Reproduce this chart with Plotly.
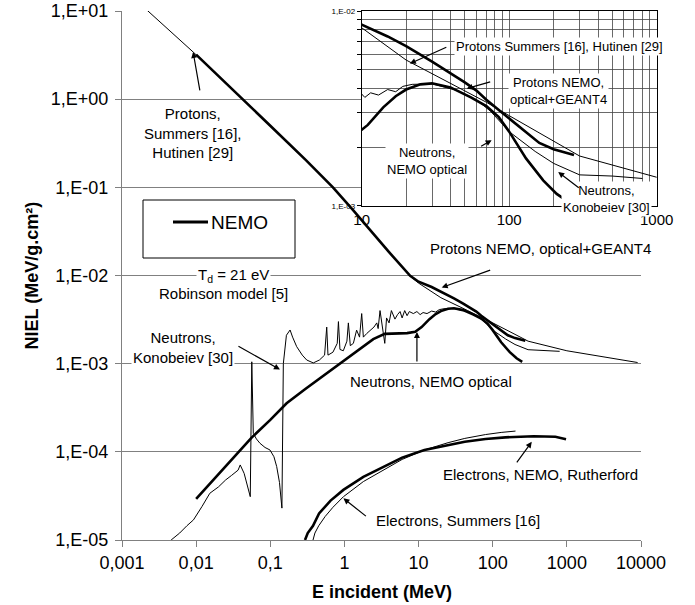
import math
import plotly.graph_objects as go

# ---------------- data (E in MeV, NIEL in MeV/g.cm2) ----------------
E_p_nemo = [0.01, 0.043, 0.1, 0.3, 0.7, 1.3, 2.2, 4, 7.7, 10, 15, 20, 30, 40, 50, 60, 70, 85, 100, 130, 160, 200, 275]
N_p_nemo = [3.2, 1.0, 0.50, 0.205, 0.10, 0.0555, 0.0330, 0.0184, 0.0099, 0.0085, 0.0074, 0.0066, 0.0055, 0.0048,
            0.0043, 0.0039, 0.0035, 0.0031, 0.0028, 0.0024, 0.0021, 0.00195, 0.00182]

E_p_sum = [0.002, 0.0091, 0.043, 0.1, 0.3, 0.7, 1.3, 2.2, 4, 7.7, 10, 20, 46, 70, 100, 200, 300, 1000, 3000, 9000]
N_p_sum = [10.9, 3.43, 1.0, 0.50, 0.205, 0.10, 0.0555, 0.0330, 0.0184, 0.0098, 0.0082, 0.0056, 0.0040, 0.0034,
           0.0029, 0.00215, 0.00180, 0.00140, 0.00120, 0.00103]

E_n_nemo = [0.01, 0.017, 0.03, 0.056, 0.1, 0.166, 0.3, 0.71, 1.3, 2.45, 3.5, 5, 7, 9, 11, 14, 17, 20, 25, 30,
            40, 55, 70, 85, 100, 130, 170, 210, 250]
N_n_nemo = [2.92e-5, 4.8e-5, 8.0e-5, 1.45e-4, 2.3e-4, 3.55e-4, 5.2e-4, 8.85e-4, 1.3e-3, 1.9e-3, 2.18e-3, 2.22e-3,
            2.22e-3, 2.3e-3, 2.6e-3, 3.2e-3, 3.65e-3, 3.95e-3, 4.2e-3, 4.25e-3, 4.05e-3, 3.6e-3, 3.25e-3,
            2.85e-3, 2.4e-3, 1.75e-3, 1.35e-3, 1.15e-3, 1.05e-3]

E_n_kon = [0.0046, 0.006, 0.0075, 0.0092, 0.012, 0.0153, 0.02, 0.025, 0.03, 0.0368, 0.0393, 0.0444, 0.0537,
           0.0563, 0.0590, 0.065, 0.0726, 0.085, 0.099, 0.112, 0.122, 0.133, 0.1435, 0.150, 0.165, 0.185,
           0.2, 0.227, 0.27, 0.31, 0.38, 0.46, 0.54, 0.577, 0.6, 0.7, 0.8, 0.83, 0.87, 0.966, 1.08, 1.13,
           1.2, 1.32, 1.46, 1.6, 1.71, 1.8, 2.0, 2.23, 2.5, 2.73, 2.85, 3.02, 3.2, 3.5, 3.7, 4.0, 4.3, 4.8,
           5.2, 5.63, 6.0, 6.5, 7.0, 7.5, 8.5, 9.5, 10.5, 11.5, 13, 15, 17, 19, 22, 30, 45, 60, 75, 100,
           150, 200, 300, 500, 800]
N_n_kon = [1.0e-5, 1.2e-5, 1.45e-5, 1.69e-5, 2.4e-5, 3.39e-5, 4.0e-5, 4.8e-5, 5.4e-5, 6.2e-5, 7.1e-5, 5.7e-5,
           3.1e-5, 1.05e-3, 1.62e-4, 1.4e-4, 1.25e-4, 1.12e-4, 1.05e-4, 8.8e-5, 6.8e-5, 4.5e-5, 2.3e-5,
           1.0e-3, 2.1e-3, 2.41e-3, 2.0e-3, 1.56e-3, 1.25e-3, 1.1e-3, 1.02e-3, 1.1e-3, 1.25e-3, 2.6e-3,
           1.25e-3, 1.35e-3, 1.7e-3, 3.0e-3, 1.45e-3, 1.4e-3, 1.8e-3, 2.9e-3, 1.6e-3, 1.7e-3, 2.4e-3,
           2.0e-3, 3.7e-3, 2.0e-3, 2.2e-3, 2.4e-3, 2.6e-3, 2.9e-3, 2.5e-3, 4.0e-3, 2.8e-3, 1.7e-3, 3.3e-3,
           2.9e-3, 4.0e-3, 3.2e-3, 3.6e-3, 3.9e-3, 3.3e-3, 4.0e-3, 3.5e-3, 3.9e-3, 3.7e-3, 3.9e-3, 3.6e-3,
           3.8e-3, 3.7e-3, 3.95e-3, 3.85e-3, 4.1e-3, 4.2e-3, 4.22e-3, 3.9e-3, 3.5e-3, 3.05e-3, 2.4e-3,
           1.9e-3, 1.65e-3, 1.44e-3, 1.42e-3, 1.38e-3]

E_e_nemo = [0.294, 0.32, 0.377, 0.455, 0.65, 0.968, 1.8, 3.41, 6, 12, 25, 42, 80, 148, 357, 700, 975]
N_e_nemo = [1.0e-5, 1.2e-5, 1.45e-5, 2.0e-5, 2.8e-5, 3.7e-5, 5.2e-5, 6.8e-5, 8.6e-5, 1.05e-4, 1.2e-4, 1.3e-4,
            1.4e-4, 1.46e-4, 1.5e-4, 1.48e-4, 1.39e-4]

E_e_sum = [0.377, 0.4, 0.45, 0.55, 0.7, 0.97, 1.8, 3.4, 6, 12, 25, 42, 80, 130, 203]
N_e_sum = [1.0e-5, 1.2e-5, 1.45e-5, 1.85e-5, 2.35e-5, 3.1e-5, 4.6e-5, 6.2e-5, 8.2e-5, 1.05e-4, 1.27e-4,
           1.42e-4, 1.57e-4, 1.66e-4, 1.72e-4]

x_tick_vals = [0.001, 0.01, 0.1, 1, 10, 100, 1000, 10000]
x_tick_text = ["0,001", "0,01", "0,1", "1", "10", "100", "1000", "10000"]
y_tick_vals = [1e-5, 1e-4, 1e-3, 1e-2, 1e-1, 1, 10]
y_tick_text = ["1,E-05", "1,E-04", "1,E-03", "1,E-02", "1,E-01", "1,E+00", "1,E+01"]

inset_x_vals = [10, 20, 30, 40, 50, 60, 70, 80, 90, 100, 200, 300, 400, 500, 600, 700, 800, 900, 1000]
inset_x_text = ["10"] + [""] * 8 + ["100"] + [""] * 8 + ["1000"]
inset_y_vals = [0.001, 0.002, 0.003, 0.004, 0.005, 0.006, 0.007, 0.008, 0.009, 0.01]
inset_y_text = ["1,E-03"] + [""] * 8 + ["1,E-02"]

# ---------------- layout geometry ----------------
W, H = 695, 605
ML, MR, MT, MB = 122, 35, 11, 65
PW = W - ML - MR
PH = H - MT - MB


def px(x):
    return (x - ML) / PW


def py(y):
    return (H - MB - y) / PH


FONT = "Liberation Sans, Arial, sans-serif"
THICK, THIN = 2.6, 1.0

fig = go.Figure()

curves = [
    (E_p_sum, N_p_sum, THIN, True),
    (E_p_nemo, N_p_nemo, THICK, True),
    (E_n_kon, N_n_kon, THIN, True),
    (E_n_nemo, N_n_nemo, THICK, True),
    (E_e_sum, N_e_sum, THIN, False),
    (E_e_nemo, N_e_nemo, THICK, False),
]
for E, N, w, in_inset in curves:
    fig.add_trace(go.Scatter(x=E, y=N, mode="lines", line=dict(color="black", width=w),
                             xaxis="x", yaxis="y", showlegend=False, hoverinfo="skip"))
    if in_inset:
        fig.add_trace(go.Scatter(x=E, y=N, mode="lines", line=dict(color="black", width=w),
                                 xaxis="x2", yaxis="y2", showlegend=False, hoverinfo="skip"))

GRAY = "#808080"
fig.update_layout(
    width=W, height=H,
    margin=dict(l=ML, r=MR, t=MT, b=MB, autoexpand=False),
    paper_bgcolor="white", plot_bgcolor="white",
    font=dict(family=FONT, color="black"),
    xaxis=dict(type="log", range=[-3, 4], domain=[0, px(641)], anchor="y", automargin=False,
               tickvals=x_tick_vals, ticktext=x_tick_text, tickfont=dict(size=18),
               showgrid=False, zeroline=False, showline=True, linecolor=GRAY, linewidth=1,
               ticks="outside", ticklen=6, tickcolor=GRAY),
    yaxis=dict(type="log", range=[-5, 1], domain=[0, 1], anchor="x", automargin=False,
               tickvals=y_tick_vals, ticktext=y_tick_text, tickfont=dict(size=18),
               showgrid=True, gridcolor=GRAY, gridwidth=1, zeroline=False,
               showline=True, linecolor=GRAY, linewidth=1,
               ticks="outside", ticklen=6, tickcolor=GRAY, ticklabelstandoff=3),
    xaxis2=dict(type="log", range=[1, 3], domain=[px(361.7), px(656.7)], anchor="y2", automargin=False,
                tickvals=inset_x_vals, ticktext=inset_x_text, tickfont=dict(size=15),
                showgrid=True, gridcolor="#444444", gridwidth=0.8, zeroline=False,
                showline=True, mirror=True, linecolor="black", linewidth=1, ticks=""),
    yaxis2=dict(type="log", range=[-3, -2], domain=[py(205.7), py(11)], anchor="x2", automargin=False,
                tickvals=inset_y_vals, ticktext=inset_y_text, tickfont=dict(size=8),
                showgrid=True, gridcolor="#444444", gridwidth=0.8, zeroline=False,
                showline=True, mirror=True, linecolor="black", linewidth=1,
                ticks="outside", ticklen=4, tickcolor="black"),
)

annotations = []


def text(t, x, y, size=15, bg="white", **kw):
    d = dict(text=t, xref="paper", yref="paper", x=px(x), y=py(y), xanchor="center", yanchor="middle",
             showarrow=False, font=dict(size=size, family=FONT, color="black"), borderpad=1)
    if bg:
        d["bgcolor"] = bg
    d.update(kw)
    annotations.append(d)


def arrow(E, N, ax, ay, axis=""):
    annotations.append(dict(text="", x=math.log10(E), y=math.log10(N), xref="x" + axis, yref="y" + axis,
                            ax=ax, ay=ay, showarrow=True, arrowhead=2, arrowsize=1, arrowwidth=1.2,
                            arrowcolor="black", standoff=0))


# main labels
text("Protons,<br>Summers [16],<br>Hutinen [29]", 193, 133)
text("T<sub>d</sub> = 21 eV", 233, 275)
text("Robinson model [5]", 223, 293)
text("Neutrons,<br>Konobeiev [30]", 183, 347.5)
text("Neutrons, NEMO optical", 431, 381.7)
text("Protons NEMO, optical+GEANT4", 540, 248.3)
text("Electrons, NEMO, Rutherford", 540, 474.3)
text("Electrons, Summers [16]", 458, 520)
text("NEMO", 239, 222, size=19, bg=None)

# inset labels
text("Protons Summers [16], Hutinen [29]", 559, 46.7, size=13)
text("Protons NEMO,<br>optical+GEANT4", 558, 90.8, size=13)
text("Neutrons,<br>NEMO optical", 427, 160.8, size=13)
text("Neutrons,<br>Konobeiev [30]", 606, 198.5, size=13)

# axis titles
text("<b>E incident (MeV)</b>", (ML + 641) / 2, 592, size=18, bg=None)
text("<b>NIEL (MeV/g.cm²)</b>", 31, (MT + H - MB) / 2, size=18, bg=None, textangle=-90)

# arrows (main)
arrow(0.0091, 3.43, 7, 40)
arrow(0.135, 8.6e-4, -43, -24)
arrow(9.5, 2.29e-3, 0, 31)
arrow(20.5, 7.3e-3, 50, -18)
arrow(336, 1.3e-4, -16, 22)
arrow(0.969, 2.97e-5, 24, 19)
# arrows (inset)
arrow(21.2, 5.37e-3, 38, -17, "2")
arrow(51.5, 4.0e-3, 25, -7, "2")
arrow(76, 2.17e-3, -12, 7, "2")
arrow(215, 1.49e-3, 22, 17, "2")

fig.update_layout(annotations=annotations)

# legend box
fig.add_shape(type="rect", xref="paper", yref="paper", x0=px(143), x1=px(295), y0=py(258), y1=py(200),
              line=dict(color="black", width=1), fillcolor="white", layer="above")
fig.add_shape(type="line", xref="paper", yref="paper", x0=px(173), x1=px(208), y0=py(222), y1=py(222),
              line=dict(color="black", width=3), layer="above")

fig.write_html("out.html", config={"displayModeBar": False, "staticPlot": True},
               post_script="document.body.style.margin='0';document.body.style.overflow='hidden';")
